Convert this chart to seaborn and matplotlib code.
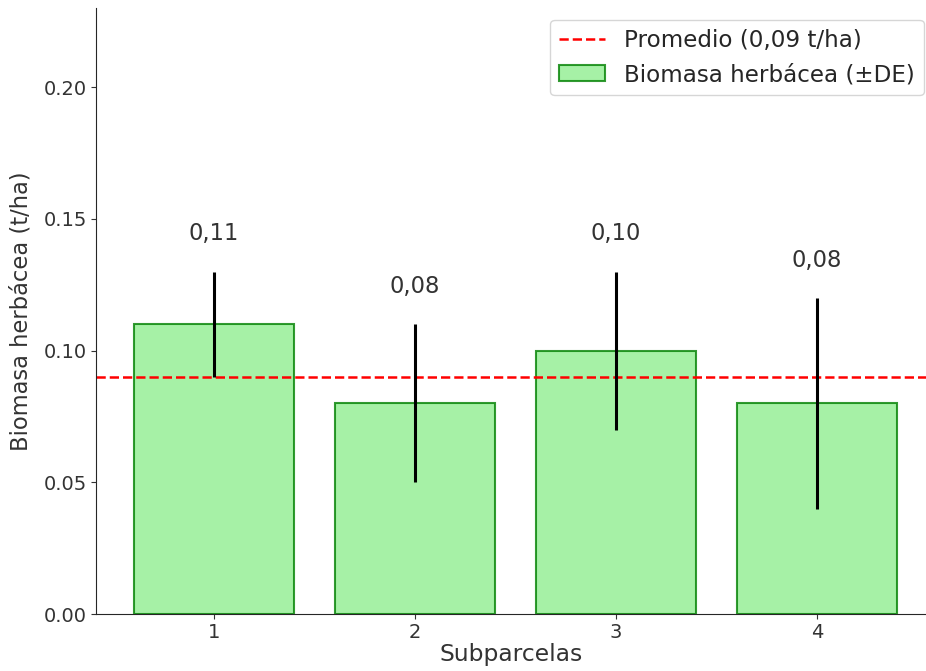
import matplotlib
matplotlib.use("Agg")
import matplotlib.pyplot as plt
import seaborn as sns
import pandas as pd

# Herbaceous biomass per subplot (t/ha) and standard deviation
subparcelas = ["1", "2", "3", "4"]
biomasa = [0.11, 0.08, 0.10, 0.08]
desvio = [0.02, 0.03, 0.03, 0.04]
promedio = 0.09
yticks = [0.00, 0.05, 0.10, 0.15, 0.20]

df = pd.DataFrame({"Subparcela": subparcelas, "Biomasa": biomasa, "DE": desvio})

sns.set_style("ticks")
plt.rcParams["font.family"] = ["DejaVu Sans"]

fig = plt.figure(figsize=(9.26, 6.71), dpi=100)
ax = fig.add_axes([0.1037, 0.0849, 0.8963, 0.903])

sns.barplot(data=df, x="Subparcela", y="Biomasa", order=subparcelas,
            color="lightgreen", edgecolor="green", linewidth=1.5, alpha=0.8,
            saturation=1, width=0.8, errorbar=None,
            label="Biomasa herbácea (±DE)", ax=ax)

xpos = list(range(len(subparcelas)))
ax.errorbar(xpos, df["Biomasa"], yerr=df["DE"], fmt="none",
            ecolor="black", elinewidth=2.2, capsize=0, zorder=3)

ax.axhline(promedio, color="red", linestyle="--", linewidth=1.8,
           label=f"Promedio ({promedio:.2f} t/ha)".replace(".", ","))

for x, v, e in zip(xpos, biomasa, desvio):
    ax.text(x, v + e + 0.01, f"{v:.2f}".replace(".", ","), ha="center",
            va="bottom", fontsize=16.3, color=".2")

ax.set_xlim(-0.587, 3.542)
ax.set_ylim(0, 0.23)
ax.set_yticks(yticks)
ax.set_yticklabels([f"{t:.2f}" for t in yticks])
ax.tick_params(labelsize=14, colors=".2", length=3.5, pad=3)
ax.set_xlabel("Subparcelas", fontsize=16.8, color=".2", labelpad=1)
ax.set_ylabel("Biomasa herbácea (t/ha)", fontsize=16.3, color=".2", labelpad=8)
sns.despine(ax=ax, right=True, top=True)

ax.legend(loc="upper right", fontsize=16.6, frameon=True,
          bbox_to_anchor=(1.0, 0.985), borderaxespad=0.1)

fig.savefig("out.png", dpi=100)
